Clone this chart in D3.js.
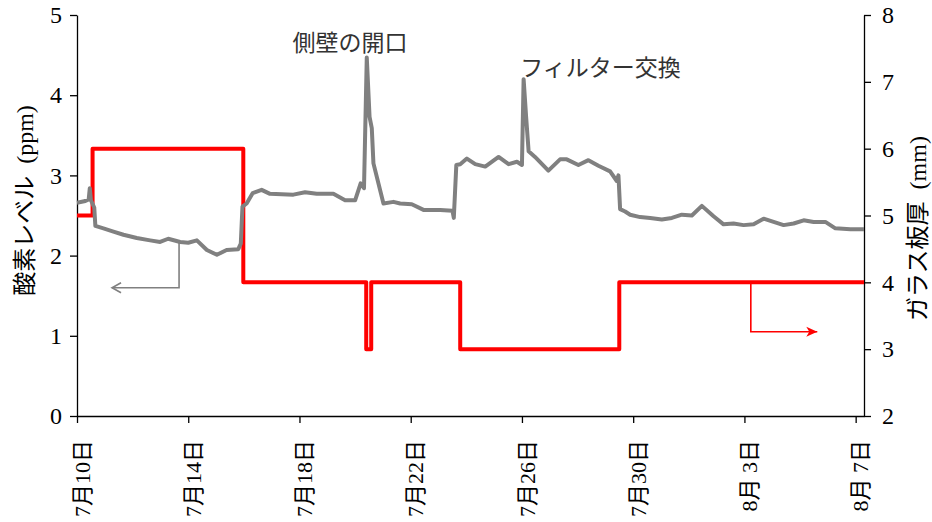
<!DOCTYPE html>
<html>
<head>
<meta charset="utf-8">
<script src="https://cdn.jsdelivr.net/npm/d3@7"></script>
<style>
  body { margin: 0; background: #fff; }
  svg text { font-family: "Liberation Serif", "Noto Sans CJK JP", serif; fill: #000; }
  .jp { font-family: "Noto Sans CJK JP", sans-serif; }
</style>
</head>
<body>
<svg></svg>
<script>
// Oxygen level (ppm), days after 7/10
const oxyDays = [0.00, 0.30, 0.42, 0.46, 0.50, 0.62, 0.66, 0.95, 1.31, 1.67, 2.15, 2.63, 2.99, 3.28, 3.71, 4.00,
  4.31, 4.67, 5.03, 5.38, 5.80, 5.89, 5.95, 6.10, 6.32, 6.64, 6.94, 7.78, 8.20, 8.62, 9.22, 9.64, 10.00,
  10.20, 10.32, 10.42, 10.52, 10.60, 10.66, 11.02, 11.38, 11.62, 12.04, 12.46, 13.06, 13.50, 13.55, 13.64,
  13.78, 14.02, 14.32, 14.68, 15.16, 15.52, 15.82, 16.00, 16.06, 16.15, 16.24, 16.47, 16.95, 17.37, 17.61,
  18.03, 18.39, 18.75, 19.17, 19.41, 19.47, 19.53, 19.71, 19.89, 20.25, 20.61, 21.03, 21.39, 21.75, 22.11,
  22.47, 22.89, 23.25, 23.61, 23.97, 24.33, 24.69, 25.05, 25.41, 25.77, 26.13, 26.49, 26.91, 27.27, 27.81, 28.30];
const oxyValues = [2.66, 2.68, 2.70, 2.84, 2.69, 2.60, 2.37, 2.34, 2.30, 2.26, 2.22, 2.19, 2.17, 2.21, 2.17, 2.16,
  2.19, 2.07, 2.01, 2.07, 2.08, 2.15, 2.61, 2.65, 2.78, 2.82, 2.77, 2.76, 2.79, 2.77, 2.77, 2.69, 2.69,
  2.90, 2.84, 4.47, 3.73, 3.59, 3.15, 2.65, 2.67, 2.65, 2.64, 2.57, 2.57, 2.56, 2.47, 3.13,
  3.14, 3.21, 3.14, 3.11, 3.23, 3.14, 3.17, 3.13, 4.20, 3.73, 3.30, 3.23, 3.06, 3.20, 3.20,
  3.13, 3.19, 3.12, 3.05, 2.93, 3.00, 2.58, 2.55, 2.51, 2.48, 2.47, 2.45, 2.47, 2.51, 2.50,
  2.62, 2.49, 2.39, 2.40, 2.38, 2.39, 2.46, 2.42, 2.38, 2.40, 2.44, 2.42, 2.42, 2.34, 2.33, 2.33];

// Glass thickness (mm), step changes
const glassDays = [0, 0.56, 5.98, 10.40, 10.58, 13.78, 19.50, 28.30];
const glassValues = [5, 6, 4, 3, 4, 3, 4, 4];

// x axis ticks
const tickDays = [0, 4, 8, 12, 16, 20, 24, 28];
const tickLabels = ["7月10日", "7月14日", "7月18日", "7月22日", "7月26日", "7月30日", "8月 3日", "8月 7日"];

// annotations
const noteTexts = ["側壁の開口", "フィルター交換"];
const noteDays = [9.82, 15.94];
const noteValues = [4.55, 4.24];
const noteAnchors = ["middle", "start"];

// legend arrows: [day, value] corners
const oxyArrow = [[3.67, 2.16], [3.67, 1.60], [1.26, 1.60]];
const glassArrow = [[24.23, 4.0], [24.23, 3.26], [26.62, 3.26]];

// Set dimensions and margins
const margin = { top: 15, right: 68, bottom: 106, left: 77 },
      width = 932 - margin.left - margin.right,
      height = 522 - margin.top - margin.bottom;

const svg = d3.select("svg")
    .attr("width", width + margin.left + margin.right)
    .attr("height", height + margin.top + margin.bottom)
    .append("g")
    .attr("transform", `translate(${margin.left},${margin.top})`);

// Scales
const x = d3.scaleLinear().domain([0, 28.3]).range([0, width]);
const yLeft = d3.scaleLinear().domain([0, 5]).range([height, 0]);
const yRight = d3.scaleLinear().domain([2, 8]).range([height, 0]);

// Markers for the arrows
const defs = d3.select("svg").append("defs");
defs.append("marker")
    .attr("id", "openArrow")
    .attr("markerUnits", "userSpaceOnUse")
    .attr("viewBox", "0 0 12 12")
    .attr("refX", 10).attr("refY", 6)
    .attr("markerWidth", 12).attr("markerHeight", 12)
    .attr("orient", "auto")
    .append("path")
    .attr("d", "M1,1 L10,6 L1,11")
    .attr("fill", "none")
    .attr("stroke", "#808080")
    .attr("stroke-width", 1.6);
defs.append("marker")
    .attr("id", "solidArrow")
    .attr("markerUnits", "userSpaceOnUse")
    .attr("viewBox", "0 0 12 12")
    .attr("refX", 11).attr("refY", 6)
    .attr("markerWidth", 12).attr("markerHeight", 12)
    .attr("orient", "auto")
    .append("path")
    .attr("d", "M0,1 L11,6 L0,11 L3,6 Z")
    .attr("fill", "#ff0000");

// Axes
const xAxis = svg.append("g")
    .attr("transform", `translate(0,${height})`)
    .call(d3.axisBottom(x).tickValues(tickDays).tickFormat((d, i) => tickLabels[i]).tickSize(7).tickSizeOuter(0));
xAxis.selectAll("text")
    .attr("transform", "rotate(-90)")
    .attr("text-anchor", "end")
    .attr("x", -24)
    .attr("y", 0)
    .attr("dy", "0.55em")
    .style("font-size", "22px");

const leftAxis = svg.append("g")
    .call(d3.axisLeft(yLeft).ticks(5).tickSize(7).tickSizeOuter(0).tickPadding(8));
leftAxis.selectAll("text").style("font-size", "24px");

const rightAxis = svg.append("g")
    .attr("transform", `translate(${width},0)`)
    .call(d3.axisRight(yRight).ticks(6).tickSize(7).tickSizeOuter(0).tickPadding(11));
rightAxis.selectAll("text").style("font-size", "24px");

svg.selectAll(".domain, .tick line").attr("stroke", "#000").attr("stroke-width", 1.3);

// Axis titles (serif for the latin part)
svg.append("text")
    .attr("transform", `translate(${-margin.left + 33},${height / 2 - 15}) rotate(-90)`)
    .attr("text-anchor", "middle")
    .style("font-size", "24px")
    .text("酸素レベル\u2002(ppm)");

svg.append("text")
    .attr("transform", `translate(${width + 62},${height / 2 + 13}) rotate(-90)`)
    .attr("text-anchor", "middle")
    .style("font-size", "24px")
    .text("ガラス板厚\u2002(mm)");

// Glass thickness (red, step)
const glassLine = d3.line()
    .x(d => x(d[0]))
    .y(d => yRight(d[1]))
    .curve(d3.curveStepAfter);
svg.append("path")
    .datum(glassDays.map((d, i) => [d, glassValues[i]]))
    .attr("d", glassLine)
    .attr("fill", "none")
    .attr("stroke", "#ff0000")
    .attr("stroke-width", 4)
    .attr("stroke-linejoin", "round");

// Oxygen level (gray)
const oxyLine = d3.line()
    .x(d => x(d[0]))
    .y(d => yLeft(d[1]));
svg.append("path")
    .datum(oxyDays.map((d, i) => [d, oxyValues[i]]))
    .attr("d", oxyLine)
    .attr("fill", "none")
    .attr("stroke", "#808080")
    .attr("stroke-width", 4)
    .attr("stroke-linejoin", "round");

// Arrows pointing to each axis
svg.append("path")
    .attr("d", d3.line()(oxyArrow.map(p => [x(p[0]), yLeft(p[1])])))
    .attr("fill", "none")
    .attr("stroke", "#808080")
    .attr("stroke-width", 1.6)
    .attr("marker-end", "url(#openArrow)");

svg.append("path")
    .attr("d", d3.line()(glassArrow.map(p => [x(p[0]), yRight(p[1])])))
    .attr("fill", "none")
    .attr("stroke", "#ff0000")
    .attr("stroke-width", 1.6)
    .attr("marker-end", "url(#solidArrow)");

// Annotations
svg.selectAll(".note")
    .data(noteTexts)
    .enter().append("text")
    .attr("class", "note jp")
    .attr("x", (d, i) => x(noteDays[i]))
    .attr("y", (d, i) => yLeft(noteValues[i]))
    .attr("text-anchor", (d, i) => noteAnchors[i])
    .style("font-size", "23px")
    .style("fill", "#333")
    .text(d => d);
</script>
</body>
</html>
